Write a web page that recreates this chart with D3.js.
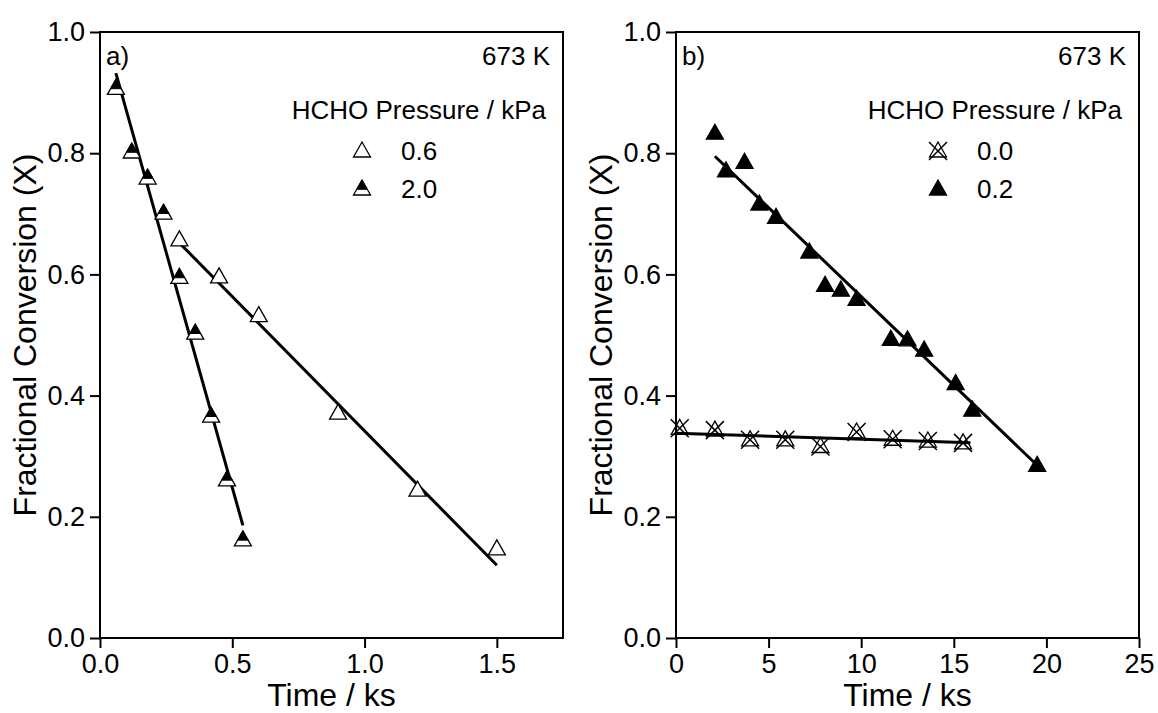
<!DOCTYPE html>
<html>
<head>
<meta charset="utf-8">
<script src="https://cdn.jsdelivr.net/npm/d3@7"></script>
<style>
  html, body { margin: 0; padding: 0; background: #fff; }
  svg { display: block; font-family: "Liberation Sans", Arial, sans-serif; }
</style>
</head>
<body>
<svg id="chart" width="1158" height="713"></svg>
<script>
// ---- panel a) : 673 K, HCHO 0.6 and 2.0 kPa ----
const timeA06 = [0.30, 0.45, 0.60, 0.90, 1.20, 1.50];
const convA06 = [0.657, 0.596, 0.532, 0.371, 0.244, 0.147];
const timeA20 = [0.06, 0.12, 0.18, 0.24, 0.30, 0.36, 0.42, 0.48, 0.54];
const convA20 = [0.907, 0.802, 0.759, 0.701, 0.595, 0.503, 0.366, 0.261, 0.162];
const fitA06 = { t: [0.30, 1.50], x: [0.652, 0.120] };
const fitA20 = { t: [0.06, 0.54], x: [0.932, 0.186] };

// ---- panel b) : 673 K, HCHO 0.0 and 0.2 kPa ----
const timeB00 = [0.2, 2.1, 4.0, 5.9, 7.8, 9.75, 11.7, 13.6, 15.5];
const convB00 = [0.346, 0.343, 0.327, 0.327, 0.316, 0.340, 0.328, 0.325, 0.322];
const timeB02 = [2.1, 2.7, 3.7, 4.5, 5.4, 7.2, 8.05, 8.9, 9.75, 11.6, 12.5, 13.4, 15.1, 16.0, 19.5];
const convB02 = [0.833, 0.771, 0.785, 0.716, 0.694, 0.637, 0.582, 0.574, 0.559, 0.493, 0.492, 0.475, 0.420, 0.376, 0.285];
const fitB00 = { t: [0.0, 15.9], x: [0.338, 0.322] };
const fitB02 = { t: [2.1, 19.5], x: [0.795, 0.285] };

// ---- axis ticks and labels ----
const yTicks = [0.0, 0.2, 0.4, 0.6, 0.8, 1.0];
const xTicksA = [0.0, 0.5, 1.0, 1.5];
const xTicksB = [0, 5, 10, 15, 20, 25];
const legendA = ["0.6", "2.0"];
const legendB = ["0.0", "0.2"];

const svg = d3.select("#chart");
const plotTop = 32, plotBottom = 638;

// marker shapes (triangle ~17px wide)
const triPts = [[0, -9], [8.5, 6], [-8.5, 6]];
const triPath = "M" + triPts.map(p => p.join(",")).join("L") + "Z";
const fillFrac = 0.62; // filled fraction of the half-filled triangle
const triTopPath = "M0,-9L" + (8.5 * fillFrac) + "," + (-9 + 15 * fillFrac) + "L" +
  (-8.5 * fillFrac) + "," + (-9 + 15 * fillFrac) + "Z";

function drawMarker(g, kind) {
  if (kind === "open") {
    g.append("path").attr("d", triPath).attr("fill", "#fff").attr("stroke", "#000").attr("stroke-width", 1.3);
  } else if (kind === "half") {
    g.append("path").attr("d", triPath).attr("fill", "#fff").attr("stroke", "#000").attr("stroke-width", 1.3);
    g.append("path").attr("d", triTopPath).attr("fill", "#000").attr("stroke", "#000").attr("stroke-width", 1);
  } else if (kind === "filled") {
    g.append("path").attr("d", triPath).attr("fill", "#000").attr("stroke", "#000").attr("stroke-width", 1.3);
  } else if (kind === "cross") {
    g.append("path").attr("d", triPath).attr("fill", "none").attr("stroke", "#000").attr("stroke-width", 1.3);
    g.append("path").attr("d", "M-9,-9L9,9M9,-9L-9,9").attr("fill", "none").attr("stroke", "#000").attr("stroke-width", 1.5);
  }
}

function panel(opts) {
  const x = d3.scaleLinear().domain(opts.xDomain).range([opts.left, opts.right]);
  const y = d3.scaleLinear().domain([0, 1]).range([plotBottom, plotTop]);
  const g = svg.append("g");

  // axes
  const yAxis = d3.axisLeft(y).tickValues(yTicks).tickFormat(d3.format(".1f"))
    .tickSize(10).tickSizeOuter(0).tickPadding(5);
  const xAxis = d3.axisBottom(x).tickValues(opts.xTicks).tickFormat(opts.xFormat)
    .tickSize(10).tickSizeOuter(0).tickPadding(6);
  const ya = g.append("g").attr("transform", `translate(${opts.left},0)`).call(yAxis);
  const xa = g.append("g").attr("transform", `translate(0,${plotBottom})`).call(xAxis);
  [ya, xa].forEach(a => {
    a.selectAll("line").attr("stroke", "#000").attr("stroke-width", 2);
    a.select(".domain").attr("stroke", "none");
    a.selectAll("text").attr("fill", "#000").style("font-size", "27px")
      .style("font-family", '"Liberation Sans", Arial, sans-serif');
  });

  // frame
  g.append("rect").attr("x", opts.left).attr("y", plotTop)
    .attr("width", opts.right - opts.left).attr("height", plotBottom - plotTop)
    .attr("fill", "none").attr("stroke", "#000").attr("stroke-width", 2);

  // axis titles
  g.append("text").attr("x", (opts.left + opts.right) / 2).attr("y", 706)
    .attr("text-anchor", "middle").style("font-size", "32px").text("Time / ks");
  g.append("text").attr("transform", `translate(${opts.left - 64},${(plotTop + plotBottom) / 2}) rotate(-90)`)
    .attr("text-anchor", "middle").style("font-size", "32px").text("Fractional Conversion (X)");

  // fitted lines
  const line = d3.line().x(d => x(d[0])).y(d => y(d[1]));
  opts.fits.forEach(fit => {
    g.append("path").attr("d", line(d3.zip(fit.t, fit.x)))
      .attr("fill", "none").attr("stroke", "#000").attr("stroke-width", 3);
  });

  // data markers
  opts.series.forEach(s => {
    d3.zip(s.t, s.x).forEach(([tt, xx]) => {
      const m = g.append("g").attr("transform", `translate(${x(tt)},${y(xx)})`);
      drawMarker(m, s.kind);
    });
  });

  // annotations
  g.append("text").attr("x", opts.left + 6).attr("y", 65).style("font-size", "26px").text(opts.tag);
  g.append("text").attr("x", opts.right - 13).attr("y", 65).attr("text-anchor", "end")
    .style("font-size", "26px").text("673 K");
  g.append("text").attr("x", opts.right - 17).attr("y", 119).attr("text-anchor", "end")
    .style("font-size", "26px").text("HCHO Pressure / kPa");
  opts.series.forEach((s, i) => {
    const yy = 151 + i * 38;
    const m = g.append("g").attr("transform", `translate(${opts.right - 201},${yy})`);
    drawMarker(m, s.kind);
    g.append("text").attr("x", opts.right - 162).attr("y", yy + 9)
      .style("font-size", "26px").text(opts.legend[i]);
  });
}

panel({
  left: 100, right: 563, xDomain: [0, 1.75], xTicks: xTicksA, xFormat: d3.format(".1f"),
  tag: "a)", legend: legendA,
  fits: [fitA06, fitA20],
  series: [{ t: timeA06, x: convA06, kind: "open" }, { t: timeA20, x: convA20, kind: "half" }]
});

panel({
  left: 676, right: 1139, xDomain: [0, 25], xTicks: xTicksB, xFormat: d3.format("d"),
  tag: "b)", legend: legendB,
  fits: [fitB00, fitB02],
  series: [{ t: timeB00, x: convB00, kind: "cross" }, { t: timeB02, x: convB02, kind: "filled" }]
});
</script>
</body>
</html>
